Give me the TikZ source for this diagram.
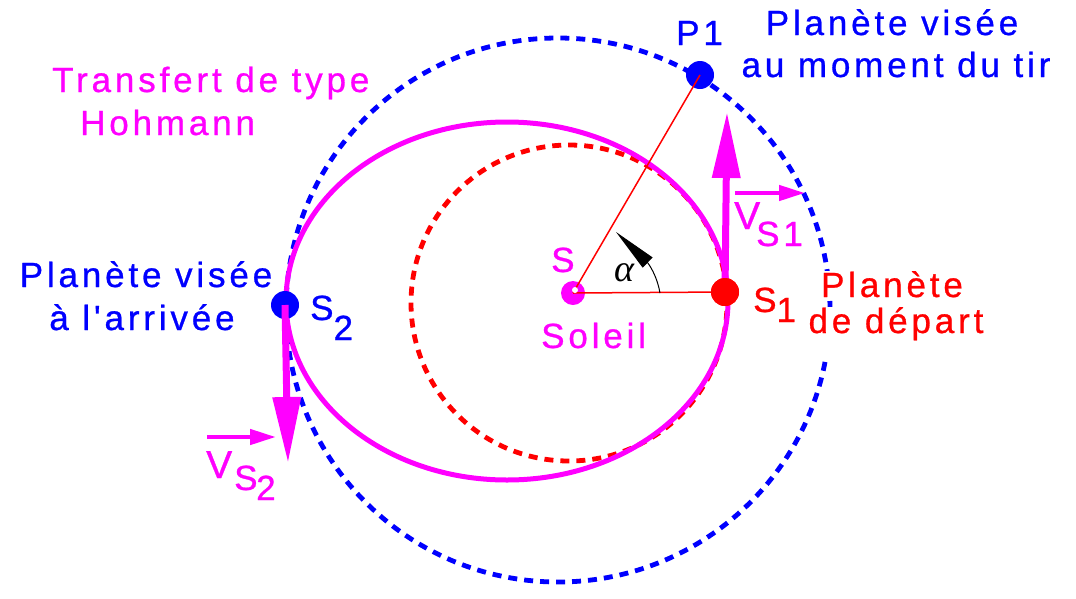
\documentclass[tikz,border=0pt]{standalone}
\usepackage{fontspec}
\newfontfamily\pixsans{Liberation Sans}[LetterSpace=11, FakeBold=0.8]
\newfontfamily\greekserif{Liberation Serif}
\usetikzlibrary{arrows.meta}
\definecolor{pblue}{RGB}{0,0,255}
\definecolor{pred}{RGB}{255,0,0}
\definecolor{pmag}{RGB}{255,0,255}
\begin{document}
\begin{tikzpicture}[x=1pt,y=-1pt,
 lbl/.style={font=\pixsans\fontsize{35}{40}\selectfont, inner sep=0pt},
 biglbl/.style={font=\pixsans\fontsize{39}{42}\selectfont, inner sep=0pt},
 bluelbl/.style={lbl, text=pblue},
 redlbl/.style={lbl, text=pred},
 maglbl/.style={lbl, text=pmag},
 orbitdots/.style={line width=4.8pt, dash pattern=on 9pt off 7pt},
 planet/.style={circle, inner sep=0pt, minimum size=28pt},
 bigvec/.style={pmag, line width=7pt, -{Triangle[length=66pt,width=27pt]}},
 smallvec/.style={pmag, line width=4.5pt, -{Triangle[length=26pt,width=15pt]}},
 thinray/.style={pred, line width=1.5pt},
 anglearc/.style={black, line width=1pt, -{Triangle[length=44pt,width=14pt]}},
]
\useasboundingbox (0,0) rectangle (1076,598);
\fill[white] (0,0) rectangle (1076,598);

% orbits
\draw[pblue, orbitdots] (558,310) circle[radius=272pt];
\draw[pred, orbitdots] (569,303) circle[radius=158pt];
\draw[pmag, line width=5pt] (507,301) ellipse[x radius=221pt, y radius=179pt];

% sun and planets
\node[planet, minimum size=24pt, fill=pmag] (sun) at (573,293) {};
\node[planet, fill=pred] (s1) at (725,292) {};
\node[planet, fill=pblue] (p1) at (700,75) {};
\node[planet, fill=pblue] (s2) at (285,305) {};

% rays and angle
\draw[thinray] (sun.center) -- (s1.center);
\draw[thinray] (sun.center) -- (p1.center);
\coordinate (arcstart) at (660,293);
\coordinate (arctip) at (616,232);
\draw[anglearc] (arcstart) to[out=100, in=-44] (arctip);
\node[circle, inner sep=0pt, minimum size=6pt, fill=white] (hole) at (575,290) {};

% velocity vectors
\coordinate (vs1tip) at (727,112);
\coordinate (vs2tip) at (288,463);
\draw[bigvec] (s1.center) -- (vs1tip);
\draw[bigvec] (s2.center) -- (vs2tip);
\node[planet, fill=pred] (s1top) at (s1) {};
\coordinate (a1s) at (735,193);
\coordinate (a1e) at (805,193);
\coordinate (a2s) at (207,437);
\coordinate (a2e) at (276,437);
\draw[smallvec] (a1s) -- (a1e);
\draw[smallvec] (a2s) -- (a2e);

% labels
\node[maglbl, anchor=base west] (tr1) at (52,92) {Transfert de type};
\node[maglbl, anchor=base west] (tr2) at (80,135) {Hohmann};
\node[bluelbl, anchor=base west] (lp1) at (676,45) {P1};
\node[bluelbl, anchor=base] (pv1) at (892,35) {Planète visée};
\node[bluelbl, anchor=base] (pv2) at (896,77) {au moment du tir};
\node[bluelbl, anchor=base] (pa1) at (146,287) {Planète visée};
\node[bluelbl, anchor=base] (pa2) at (142,330) {à l'arrivée};
\node[maglbl, anchor=base west] (ls) at (551,272) {S};
\node[maglbl, anchor=base west] (lsol) at (541,348) {Soleil};
\node[redlbl, anchor=base west] (ls1) at (753,312) {S\raisebox{-10pt}{1}};
\node[redlbl, anchor=base, fill=white, inner xsep=3pt] (pd1) at (892,297) {Planète};
\node[redlbl, anchor=base, fill=white, inner xsep=3pt, text depth=26pt] (pd2) at (896,333) {de départ};
\node[bluelbl, anchor=base west] (ls2) at (310,320) {S\raisebox{-20pt}{2}};
\node[biglbl, text=pmag, anchor=base west] (v1) at (734,229) {V};
\node[maglbl, anchor=base west] (v1s) at (756,246) {S1};
\node[biglbl, text=pmag, anchor=base west] (v2) at (206,478) {V};
\node[maglbl, anchor=base west] (v2s) at (234,490) {S};
\node[maglbl, anchor=base west] (v2n) at (256,500) {2};
\node[anchor=base, inner sep=0pt, font=\greekserif\itshape\fontsize{38}{40}\selectfont] (alpha) at (624,281) {α};
\end{tikzpicture}
\end{document}
